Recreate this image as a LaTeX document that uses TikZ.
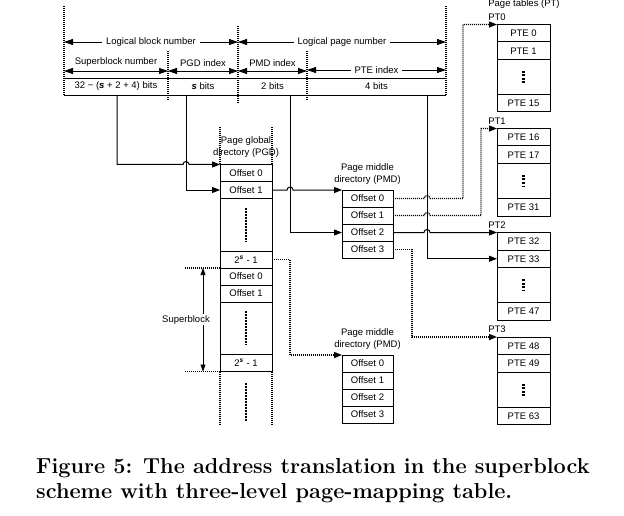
\documentclass[tikz,border=0pt]{standalone}
\usepackage{fontspec}
\newfontfamily\diagfont{Liberation Sans}
\usepackage{tikz}
\usetikzlibrary{arrows.meta, positioning}

\tikzset{
  lbl/.style = {font = \diagfont\fontsize{9.5}{12}\selectfont, inner sep = 1pt},
  cell/.style = {lbl, draw, line width = 1pt, inner sep = 0pt, outer sep = 0pt, minimum height = 17pt},
  pgdcell/.style = {cell, minimum width = 52pt},
  pmdcell/.style = {cell, minimum width = 51pt},
  ptcell/.style = {cell, minimum width = 53pt, minimum height = 17.5pt},
  field/.style = {lbl, inner sep = 0pt, outer sep = 0pt, minimum height = 17pt},
  link/.style = {line width = 1pt, arrows = {-Triangle[length = 8pt, width = 6pt]}},
  dotlink/.style = {line width = 1.4pt, dash pattern = on 1pt off 1pt,
                    arrows = {-Triangle[length = 8pt, width = 6pt]}},
  dotline/.style = {line width = 1.4pt, dash pattern = on 1pt off 1pt},
  dimarrow/.style = {line width = 0.8pt, arrows = {Triangle[length = 9pt, width = 6pt]-Triangle[length = 9pt, width = 6pt]}},
  moredots/.style = {line width = 2pt, dash pattern = on 2pt off 1pt},
  ptdots/.style = {line width = 2.2pt, dash pattern = on 2pt off 1.5pt},
}

\begin{document}
\begin{tikzpicture}[x = 1pt, y = -1pt]
  \useasboundingbox (0,0) rectangle (624,516);

  \node [field, minimum width = 104pt] (fsb) at (116,86.5) {32 − ({\bfseries\itshape s} + 2 + 4) bits};
  \node [field, minimum width = 70pt, right = 0pt of fsb] (fpgd) {{\bfseries\itshape s} bits};
  \node [field, minimum width = 69pt, right = 0pt of fpgd] (fpmd) {2 bits};
  \node [field, minimum width = 139pt, right = 0pt of fpmd] (fpte) {4 bits};
  \draw [line width = 0.9pt] (fsb.north west) -- (fpte.north east);
  \draw [line width = 0.9pt] (fsb.south west) -- (fpte.south east);

  \draw [dotline] (fsb.south west) -- ++(0,-90);
  \draw [dotline] ([yshift = -5pt]fpgd.south west) -- ++(0,-51);
  \draw [dotline] ([yshift = -8pt]fpmd.south west) -- ++(0,-78);
  \draw [dotline] ([yshift = -5pt]fpte.south west) -- ++(0,-52);
  \draw [dotline] (fpte.south east) -- ++(0,-90);

  \draw [dimarrow] ([yshift = 7pt]fsb.north west) -- ([yshift = 7pt]fsb.north east)
        node [lbl, midway, above = 3pt] (sblbl) {Superblock number};
  \draw [dimarrow] ([yshift = 7pt]fpgd.north west) -- ([yshift = 7pt]fpgd.north east)
        node [lbl, midway, above = 3pt] (pgdidx) {PGD index};
  \draw [dimarrow] ([yshift = 7pt]fpmd.north west) -- ([yshift = 7pt]fpmd.north east)
        node [lbl, midway, above = 3pt] (pmdidx) {PMD index};
  \draw [dimarrow] ([yshift = 8pt]fpte.north west) -- ([yshift = 8pt]fpte.north east)
        node [lbl, midway, fill = white, inner sep = 4pt] (pteidx) {PTE index};
  \draw [dimarrow] ([yshift = 36pt]fsb.north west) -- ([yshift = 36pt]fpgd.north east)
        node [lbl, midway, fill = white, inner sep = 4pt] (lbn) {Logical block number};
  \draw [dimarrow] ([yshift = 36pt]fpmd.north west) -- ([yshift = 36pt]fpte.north east)
        node [lbl, midway, fill = white, inner sep = 4pt] (lpn) {Logical page number};

  \coordinate (tapsb) at ([xshift = 1pt]fsb.south);
  \coordinate (tappgd) at ([xshift = -17pt]fpgd.south);
  \coordinate (tappmd) at ([xshift = 17.5pt]fpmd.south);
  \coordinate (tappte) at ([xshift = 50.5pt]fpte.south);

  \node [lbl, align = center] (pgdlbl) at (246,147) {Page global\\directory (PGD)};
  \node [pgdcell] (pgdo0) at (246,173) {Offset 0};
  \node [pgdcell, below = 0pt of pgdo0] (pgdo1) {Offset 1};
  \node [pgdcell, minimum height = 52.5pt, below = 0pt of pgdo1] (pgdd) {};
  \node [pgdcell, below = 0pt of pgdd] (pgdl) {2\textsuperscript{\bfseries\itshape s} - 1};
  \node [pgdcell, below = 0pt of pgdl] (pgdo2) {Offset 0};
  \node [pgdcell, below = 0pt of pgdo2] (pgdo3) {Offset 1};
  \node [pgdcell, minimum height = 52.5pt, below = 0pt of pgdo3] (pgdd2) {};
  \node [pgdcell, below = 0pt of pgdd2] (pgdl2) {2\textsuperscript{\bfseries\itshape s} - 1};
  \draw [dotline] (pgdo0.north west) -- ++(0,-37);
  \draw [dotline] (pgdo0.north east) -- ++(0,-37);
  \draw [dotline] (pgdl2.south west) -- ++(0,54);
  \draw [dotline] (pgdl2.south east) -- ++(0,54);
  \draw [moredots] ([yshift = -9pt]pgdd.north) -- ++(0,34);
  \draw [moredots] ([yshift = -9pt]pgdd2.north) -- ++(0,34);
  \draw [moredots] ([yshift = -11pt]pgdl2.south) -- ++(0,38);

  \draw [dotline] (pgdo2.north west) -- ++(-35,0);
  \draw [dotline] (pgdl2.south west) -- ++(-35,0);
  \draw [line width = 0.6pt, arrows = {Triangle[length = 7pt, width = 5pt]-Triangle[length = 7pt, width = 5pt]}]
        ([xshift = -17pt]pgdo2.north west) -- ([xshift = -17pt]pgdl2.south west)
        node [lbl, midway, fill = white, xshift = -17pt] (sbk) {Superblock};

  \node [pmdcell] (pmdu0) at (367.5,198.5) {Offset 0};
  \node [pmdcell, below = 0pt of pmdu0] (pmdu1) {Offset 1};
  \node [pmdcell, below = 0pt of pmdu1] (pmdu2) {Offset 2};
  \node [pmdcell, below = 0pt of pmdu2] (pmdu3) {Offset 3};
  \node [lbl, align = center, above = 4pt of pmdu0] (pmdulbl) {Page middle\\directory (PMD)};

  \node [pmdcell] (pmdl0) at (367.5,363.5) {Offset 0};
  \node [pmdcell, below = 0pt of pmdl0] (pmdl1) {Offset 1};
  \node [pmdcell, below = 0pt of pmdl1] (pmdl2) {Offset 2};
  \node [pmdcell, below = 0pt of pmdl2] (pmdl3) {Offset 3};
  \node [lbl, align = center, above = 4pt of pmdl0] (pmdllbl) {Page middle\\directory (PMD)};

  \node [lbl] (ptlbl) at (524,4.5) {Page tables (PT)};
  \foreach \i/\ytop in {0/24.5, 1/128.5, 2/232.5, 3/337} {
    \pgfmathtruncatemacro\pteA{16*\i}
    \pgfmathtruncatemacro\pteB{16*\i+1}
    \pgfmathtruncatemacro\pteZ{16*\i+15}
    \node [ptcell] (pt\i-0) at (523.5,\ytop+8.75) {PTE \pteA};
    \node [ptcell, below = 0pt of pt\i-0] (pt\i-1) {PTE \pteB};
    \node [ptcell, minimum height = 35pt, below = 0pt of pt\i-1] (pt\i-d) {};
    \node [ptcell, below = 0pt of pt\i-d] (pt\i-n) {PTE \pteZ};
    \draw [ptdots] ([yshift = 6pt]pt\i-d.center) -- ([yshift = -6pt]pt\i-d.center);
    \node [lbl, above = 3pt of pt\i-0.north west] (pt\i-lbl) {PT\i};
  }

  \draw [link] (tapsb) -- ++(0,69.5) -- ++(66,0) arc [start angle = 180, end angle = 0, radius = 3pt]
        -- (pgdo0.north west);
  \draw [link] (tappgd) |- (pgdo1.west);
  \draw [link] (pgdo1.east) -- ++(15,0) arc [start angle = 180, end angle = 0, radius = 3pt]
        -- (pmdu0.north west);
  \draw [link] (tappmd) |- (pmdu2.west);
  \draw [link] (tappte) |- (pt2-1.west);
  \draw [dotlink] (pmdu0.east) -- ++(31,0) arc [start angle = 180, end angle = 0, radius = 3pt]
        -- ++(33,0) |- (pt0-0.north west);
  \draw [dotlink] (pmdu1.east) -- ++(31,0) arc [start angle = 180, end angle = 0, radius = 3pt]
        -- ++(51,0) |- (pt1-0.north west);
  \draw [link] (pmdu2.east) -- ++(31,0) arc [start angle = 180, end angle = 0, radius = 3pt]
        -- (pt2-0.north west);
  \draw [dotlink] (pmdu3.east) -- ++(19,0) |- (pt3-0.north west);
  \draw [dotlink] (pgdl.east) -| (tappmd |- pmdl0.north west) -- (pmdl0.north west);

  \node [anchor = north west, align = left, inner sep = 0pt,
         font = \fontsize{21.7}{25.5}\selectfont\bfseries] (caption) at (36,458)
        {Figure 5: The address translation in the superblock\\scheme with three-level page-mapping table.};
\end{tikzpicture}
\end{document}
